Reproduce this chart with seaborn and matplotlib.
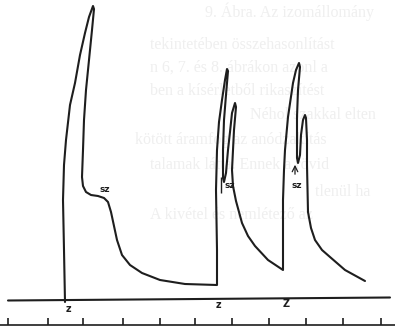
import pandas as pd
import matplotlib.pyplot as plt
import seaborn as sns

# kymograph trace: time (x) and pen position (y, read downward from the top)
trace_t = [65, 64, 63, 64, 66, 70, 75, 80, 85, 89, 93, 94, 92, 89, 86, 84, 83, 82, 83, 86, 91, 98,
           104, 108, 111, 114, 117, 122, 130, 142, 160, 185, 217,
           217, 216, 217, 219, 222, 225, 227, 228, 226, 224, 223, 223, 224,
           226, 228, 230, 232, 235, 236, 234, 233, 232, 233, 236, 242, 248, 255, 268, 283,
           283, 283, 284, 285, 288, 293, 296, 299, 300, 298, 297, 297, 298,
           300, 301, 303, 305, 306, 307, 307, 308, 311, 315, 322, 330, 345, 365]
trace_y = [302, 250, 200, 165, 140, 105, 83, 55, 33, 17, 6, 9, 30, 60, 90, 120, 150, 177, 186, 192, 195, 196,
           198, 202, 212, 226, 240, 255, 265, 273, 280, 284, 285,
           250, 190, 150, 122, 100, 80, 69, 71, 95, 120, 150, 178, 182,
           173, 150, 132, 113, 103, 107, 130, 150, 170, 186, 201, 223, 236, 246, 260, 270,
           240, 200, 170, 150, 117, 83, 70, 63, 67, 90, 117, 158, 163,
           155, 135, 120, 115, 118, 140, 165, 212, 228, 240, 250, 257, 270, 281]

baseline_t = [8, 390]
baseline_y = [300.5, 297.5]

tick_t = [8, 48, 83, 123, 160, 195, 232, 269, 306, 343, 381]

z_t = [68, 218, 286]
z_y = [309, 305, 304]
z_text = ["z", "z", "Z"]

sz_t = [105, 230, 297]
sz_y = [190, 186, 185]

# faint text showing through from the other side of the page
bleed_lines = [
    (205, 12, "9. Ábra. Az izomállomány"),
    (150, 45, "tekintetében összehasonlítást"),
    (150, 68, "n 6, 7. és 8. ábrákon azonl a"),
    (150, 91, "ben a kísérletből rikaszítést"),
    (250, 115, "Néhol szakkal elten"),
    (135, 140, "kötött áramfog az anódzakítás"),
    (150, 165, "talamak látta. Ennek a rövid"),
    (315, 192, "tlenül ha"),
    (150, 215, "A kivétel és nemlétező az"),
]

trace = pd.DataFrame({"t": trace_t, "y": trace_y})
base = pd.DataFrame({"t": baseline_t, "y": baseline_y})

sns.set_style("white")
fig = plt.figure(figsize=(3.95, 3.26), dpi=100)
ax = fig.add_axes([0, 0, 1, 1])

for x, y, s in bleed_lines:
    ax.text(x, y, s, fontsize=11.5, family="Liberation Serif", color="#efefef",
            va="center", ha="left", zorder=0)

ink = "#1e1e1e"
sns.lineplot(data=trace, x="t", y="y", sort=False, estimator=None,
             color=ink, lw=1.5, ax=ax)
sns.lineplot(data=base, x="t", y="y", sort=False, estimator=None,
             color=ink, lw=1.5, ax=ax)

# time marker line with ticks
ax.hlines(324.5, 0, 395, color=ink, lw=1.2)
ax.vlines(tick_t, 318, 325, color=ink, lw=1.2)

for x, y, s in zip(z_t, z_y, z_text):
    ax.text(x, y, s, fontsize=7, color=ink, ha="center", va="center", fontweight="bold")
for x, y in zip(sz_t, sz_y):
    ax.text(x, y, "sz", fontsize=6.5, color=ink, ha="center", va="center", fontweight="bold")

# small bracket at the second sz and arrow at the third
ax.vlines(221, 177, 193, color=ink, lw=1)
ax.annotate("", xy=(295, 162), xytext=(295, 177),
            arrowprops=dict(arrowstyle="->", color=ink, lw=0.9))

ax.set_xlim(0, 395)
ax.set_ylim(326, 0)
ax.set_axis_off()

fig.savefig("out.png", dpi=100, facecolor="white")
